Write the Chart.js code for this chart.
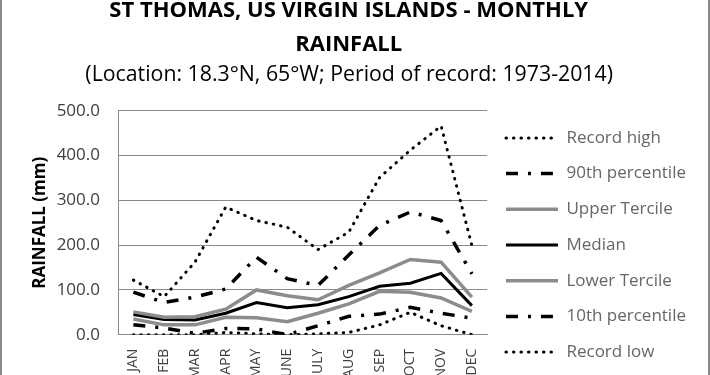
<!DOCTYPE html>
<html>
<head>
<meta charset="utf-8">
<script src="https://cdn.jsdelivr.net/npm/chart.js@4"></script>
<style>
  html, body { margin: 0; padding: 0; background: #fff; overflow: hidden; }
  #wrap { position: relative; width: 706px; height: 375px; overflow: hidden;
          border-left: 2px solid #8a8a8a; border-right: 2px solid #8a8a8a; }
  #box { position: absolute; left: -2px; top: -6px; width: 710px; height: 393px; }
</style>
</head>
<body>
<div id="wrap"><div id="box"><canvas id="myChart"></canvas></div></div>
<script>
// monthly rainfall, mm
const months = ['JAN', 'FEB', 'MAR', 'APR', 'MAY', 'JUNE', 'JULY', 'AUG', 'SEP', 'OCT', 'NOV', 'DEC'];
const recordHigh = [122, 85, 162, 285, 255, 240, 190, 229, 351, 412, 466, 199];
const pct90 = [95, 72, 84, 102, 173, 125, 110, 178, 244, 274, 255, 136];
const upperTercile = [51, 39, 40, 57, 100, 87, 78, 110, 138, 168, 162, 84];
const median = [45, 34, 33, 48, 72, 60, 67, 85, 108, 115, 137, 65];
const lowerTercile = [35, 22, 22, 39, 38, 29, 48, 69, 97, 95, 82, 52];
const pct10 = [22, 15, 3, 14, 13, 0, 20, 41, 46, 61, 48, 37];
const recordLow = [0, 0, 0, 5, 2, 0, 2, 5, 22, 50, 20, 0];
const yTicks = [0, 100, 200, 300, 400, 500];

const FONT = "'Open Sans'";
const dotted = [0.5, 7];
const dashDot = [12, 10, 3, 10];
// trailing spaces pull the centred titles a bit left, over the plot like the original
const pad = '\u00A0\u00A0\u00A0\u00A0\u00A0';

function line(label, data, color, width, dash, cap) {
    return {
        label: label,
        data: data,
        borderColor: color,
        backgroundColor: color,
        borderWidth: width,
        borderDash: dash,
        borderCapStyle: cap,
        pointRadius: 0,
        tension: 0,
        fill: false
    };
}

var ctx = document.getElementById('myChart').getContext('2d');

const myChart = new Chart(ctx, {
    type: 'line',
    data: {
        labels: months,
        datasets: [
            line('Record high', recordHigh, '#000', 3, dotted, 'round'),
            line('90th percentile', pct90, '#000', 3.5, dashDot, 'butt'),
            line('Upper Tercile', upperTercile, '#8c8c8c', 3.5, [], 'butt'),
            line('Median', median, '#000', 3, [], 'butt'),
            line('Lower Tercile', lowerTercile, '#8c8c8c', 3.5, [], 'butt'),
            line('10th percentile', pct10, '#000', 3.5, dashDot, 'butt'),
            line('Record low', recordLow, '#000', 3, dotted, 'round')
        ]
    },
    options: {
        responsive: true,
        maintainAspectRatio: false,
        animation: false,
        layout: { padding: { left: 30, right: 14, top: 0, bottom: 0 } },
        plugins: {
            title: {
                display: true,
                text: ['ST THOMAS, US VIRGIN ISLANDS - MONTHLY' + pad, 'RAINFALL' + pad],
                color: '#000',
                font: { family: FONT, size: 22, weight: 'bold', lineHeight: 1.55 },
                padding: { top: 0, bottom: 0 }
            },
            subtitle: {
                display: true,
                text: '(Location: 18.3\u00B0N, 65\u00B0W; Period of record: 1973-2014)' + pad,
                color: '#000',
                font: { family: FONT, size: 21.3, lineHeight: 1.2 },
                padding: { top: 0, bottom: 23 }
            },
            legend: {
                position: 'right',
                maxWidth: 260,
                title: { display: true, text: '', font: { size: 10, lineHeight: 1 }, padding: { top: 99, bottom: 0 } },
                labels: {
                    usePointStyle: true,
                    pointStyle: 'line',
                    pointStyleWidth: 52,
                    color: '#000',
                    font: { family: FONT, size: 17 },
                    padding: 18.7,
                    generateLabels: (chart) => chart.data.datasets.map((ds, i) => ({
                        text: ds.label,
                        fillStyle: ds.borderColor,
                        strokeStyle: ds.borderColor,
                        lineWidth: ds.borderWidth,
                        lineDash: ds.borderDash,
                        lineCap: ds.borderCapStyle,
                        pointStyle: 'line',
                        hidden: false,
                        datasetIndex: i
                    }))
                }
            },
            tooltip: { enabled: false }
        },
        scales: {
            x: {
                offset: true,
                grid: { display: false },
                border: { display: true, color: '#8a8a8a', width: 1 },
                ticks: {
                    minRotation: 90,
                    maxRotation: 90,
                    autoSkip: false,
                    padding: 6,
                    color: '#404040',
                    font: { family: FONT, size: 14 }
                }
            },
            y: {
                min: 0,
                max: 500,
                afterBuildTicks: (axis) => { axis.ticks = yTicks.map(v => ({ value: v })); },
                afterFit: (axis) => { axis.width = 88; },
                grid: { color: '#8a8a8a', drawTicks: false },
                border: { display: true, color: '#8a8a8a', width: 1 },
                ticks: {
                    padding: 18,
                    color: '#404040',
                    font: { family: FONT, size: 17 },
                    callback: (v) => v.toFixed(1)
                },
                title: {
                    display: true,
                    text: 'RAINFALL (mm)',
                    color: '#000',
                    font: { family: FONT, size: 17, weight: 'bold', lineHeight: 1.2 },
                    padding: { top: 0, bottom: 0 }
                }
            }
        }
    }
});
</script>
</body>
</html>
